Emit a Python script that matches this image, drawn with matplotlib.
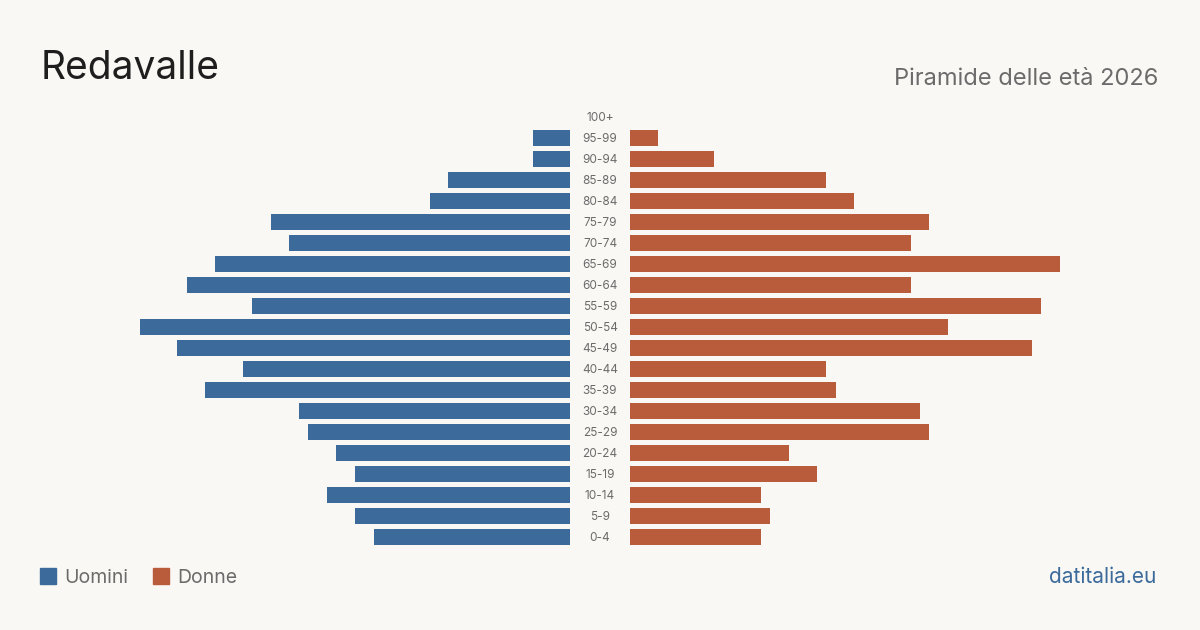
import matplotlib.pyplot as plt

# dati (numero di residenti per classe di età)
classi = ['0-4', '5-9', '10-14', '15-19', '20-24', '25-29', '30-34', '35-39',
          '40-44', '45-49', '50-54', '55-59', '60-64', '65-69', '70-74',
          '75-79', '80-84', '85-89', '90-94', '95-99', '100+']
uomini = [21, 23, 26, 23, 25, 28, 29, 39, 35, 42, 46, 34, 41, 38, 30, 32, 15, 13, 4, 4, 0]
donne = [14, 15, 14, 20, 17, 32, 31, 22, 21, 43, 34, 44, 30, 46, 30, 32, 24, 21, 9, 3, 0]

BG = '#f9f8f4'
BLU = '#3b6a9b'
ROSSO = '#b95c3c'
GRIGIO = '#6b6b6b'
plt.rcParams['font.family'] = ['Inter', 'DejaVu Sans']

W, H = 1200, 630
fig = plt.figure(figsize=(12, 6.3), dpi=100, facecolor=BG)

px = 9.35  # pixel per persona
y0 = 547.5
alt = 21 * len(classi)
bottom = (H - y0) / H
height = alt / H

ax_l = fig.add_axes([100 / W, bottom, 470 / W, height])
ax_r = fig.add_axes([630 / W, bottom, 470 / W, height])
pos = list(range(len(classi)))

ax_l.barh(pos, uomini, height=0.8, color=BLU)
ax_l.set_xlim(470 / px, 0)
ax_r.barh(pos, donne, height=0.8, color=ROSSO)
ax_r.set_xlim(0, 470 / px)

for ax in (ax_l, ax_r):
    ax.set_ylim(-0.5, len(classi) - 0.5)
    ax.axis('off')
    ax.set_facecolor(BG)

for i, c in enumerate(classi):
    ax_r.text(-30 / px, i - 0.07, c, ha='center', va='center', fontsize=8.5,
              color=GRIGIO, clip_on=False)

fig.text(41 / W, 1 - 79 / H, 'Redavalle', fontsize=28, color='#1e1e1e',
         ha='left', va='baseline')
fig.text(1158 / W, 1 - 85 / H, 'Piramide delle età 2026', fontsize=17,
         color=GRIGIO, ha='right', va='baseline')

# legenda
fig.patches.append(plt.Rectangle((40 / W, 1 - 584 / H), 16 / W, 16 / H,
                                 transform=fig.transFigure, color=BLU))
fig.text(64 / W, 1 - 583 / H, 'Uomini', fontsize=14, color=GRIGIO, va='baseline')
fig.patches.append(plt.Rectangle((153 / W, 1 - 584 / H), 16 / W, 16 / H,
                                 transform=fig.transFigure, color=ROSSO))
fig.text(177 / W, 1 - 583 / H, 'Donne', fontsize=14, color=GRIGIO, va='baseline')

fig.text(1156 / W, 1 - 583 / H, 'datitalia.eu', fontsize=15, color=BLU,
         ha='right', va='baseline')

fig.savefig('out.png', dpi=100, facecolor=BG)
